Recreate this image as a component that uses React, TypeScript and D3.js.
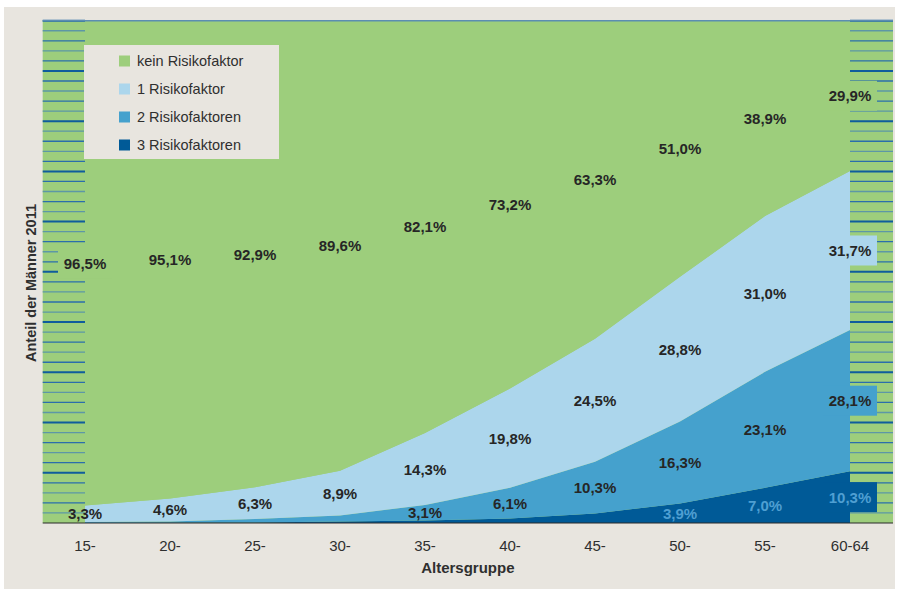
import React from "react";
import * as d3 from "d3";

const categories = ["15-", "20-", "25-", "30-", "35-", "40-", "45-", "50-", "55-", "60-64"];
const keinRisiko = [96.5, 95.1, 92.9, 89.6, 82.1, 73.2, 63.3, 51.0, 38.9, 29.9];
const einRisiko = [3.3, 4.6, 6.3, 8.9, 14.3, 19.8, 24.5, 28.8, 31.0, 31.7];
const zweiRisiko = [0.2, 0.2, 0.7, 1.2, 3.1, 6.1, 10.3, 16.3, 23.1, 28.1];
const dreiRisiko = [0.0, 0.1, 0.1, 0.3, 0.5, 0.9, 1.9, 3.9, 7.0, 10.3];

const seriesNames = ["kein Risikofaktor", "1 Risikofaktor", "2 Risikofaktoren", "3 Risikofaktoren"];
const seriesKeys = ["kein", "eins", "zwei", "drei"];
const seriesColors = ["#9dce7c", "#acd6ec", "#45a1cd", "#005a97"];
const labelColors = ["#262626", "#262626", "#262626", "#4f9fd2"];
const yTicksStripe = d3.range(0, 101, 2);

const FONT = "'Liberation Sans', Arial, Helvetica, sans-serif";

export default function App() {
  const W = 899;
  const H = 589;
  const plotLeft = 42.7;
  const plotRight = 893;
  const plotTop = 20.7;
  const plotBottom = 523;

  const x = d3.scalePoint<string>().domain(categories).range([85, 850]);
  const y = d3.scaleLinear().domain([0, 100]).range([plotBottom, plotTop]);

  const table = categories.map((c, i) => ({
    cat: c,
    kein: keinRisiko[i],
    eins: einRisiko[i],
    zwei: zweiRisiko[i],
    drei: dreiRisiko[i],
  }));

  const stack = d3
    .stack<any>()
    .keys(["drei", "zwei", "eins", "kein"])
    .order(d3.stackOrderNone)
    .offset(d3.stackOffsetNone);
  const stacked = stack(table);

  const area = d3
    .area<any>()
    .x((d) => x(d.data.cat) as number)
    .y0((d) => y(d[0]))
    .y1((d) => y(d[1]))
    .curve(d3.curveLinear);

  const colorOf = (key: string) => seriesColors[seriesKeys.indexOf(key)];
  const labelColorOf = (key: string) => labelColors[seriesKeys.indexOf(key)];

  const fmt = (v: number) => v.toFixed(1).replace(".", ",") + "%";

  const stripeBands = [
    [plotLeft, x(categories[0]) as number],
    [x(categories[categories.length - 1]) as number, plotRight],
  ];

  const labels: any[] = [];
  stacked.forEach((layer) => {
    layer.forEach((d: any, i: number) => {
      const v = d.data[layer.key];
      if (v >= 3) {
        labels.push({
          key: layer.key,
          i,
          cx: x(d.data.cat) as number,
          cy: y((d[0] + d[1]) / 2),
          text: fmt(v),
        });
      }
    });
  });

  const boxHalfW = 27;
  const boxHalfH = 15;

  return (
    <svg
      width={W}
      height={H}
      style={{ position: "absolute", left: 0, top: 0, background: "#ffffff" }}
      fontFamily={FONT}
    >
      <rect x={4} y={7} width={891} height={H - 7} fill="#e8e5df" />
      <rect x={plotLeft} y={plotTop} width={plotRight - plotLeft} height={plotBottom - plotTop} fill={seriesColors[0]} />

      {/* striped side bands */}
      {stripeBands.map((b, bi) => (
        <g key={"band" + bi}>
          {yTicksStripe.map((t, ti) =>
            t === 0 ? null : (
              <line
                key={ti}
                x1={b[0]}
                x2={b[1]}
                y1={y(t)}
                y2={y(t)}
                stroke={t % 10 === 0 ? "#0f5c9d" : ti % 2 === 0 ? "#2b6eac" : "#5d97a6"}
                strokeWidth={t % 10 === 0 ? 2 : 1.3}
              />
            )
          )}
        </g>
      ))}

      {/* stacked areas */}
      {stacked.map((layer) => (
        <path key={layer.key} d={area(layer) as string} fill={colorOf(layer.key)} />
      ))}

      {/* top line */}
      <line x1={plotLeft} x2={plotRight} y1={plotTop} y2={plotTop} stroke="#5b8db2" strokeWidth={1.5} />
      {/* baseline */}
      <line x1={plotLeft} x2={plotRight} y1={plotBottom} y2={plotBottom} stroke="#2a2a2a" strokeWidth={1.2} />

      {/* label boxes on the edges */}
      {labels
        .filter((l) => (l.i === 0 || l.i === categories.length - 1) && l.cy + boxHalfH < plotBottom)
        .map((l, k) => (
          <rect
            key={"box" + k}
            x={l.cx - boxHalfW}
            y={l.cy - boxHalfH}
            width={boxHalfW * 2}
            height={boxHalfH * 2}
            fill={colorOf(l.key)}
          />
        ))}

      {/* value labels */}
      {labels.map((l, k) => (
        <text
          key={"lab" + k}
          x={l.cx}
          y={l.cy}
          textAnchor="middle"
          dominantBaseline="central"
          fontWeight="bold"
          fontSize={15}
          fill={labelColorOf(l.key)}
        >
          {l.text}
        </text>
      ))}

      {/* legend */}
      <rect x={84} y={45} width={195} height={114} fill="#e8e5df" />
      {seriesNames.map((n, i) => (
        <g key={n} transform={`translate(119, ${61 + i * 28})`}>
          <rect x={0} y={-5.5} width={11} height={11} fill={seriesColors[i]} />
          <text x={18} y={0} dominantBaseline="central" fontSize={14.5} fill="#2f2f2f">
            {n}
          </text>
        </g>
      ))}

      {/* x axis tick labels */}
      {categories.map((c) => (
        <text key={c} x={x(c) as number} y={550.5} textAnchor="middle" fontSize={15} fill="#2f2f2f">
          {c}
        </text>
      ))}
      <text
        x={(plotLeft + plotRight) / 2}
        y={572.5}
        textAnchor="middle"
        fontSize={15}
        fontWeight="bold"
        fill="#2f2f2f"
      >
        Altersgruppe
      </text>
      <text
        transform={`translate(36, ${283}) rotate(-90)`}
        textAnchor="middle"
        fontSize={14.5}
        fontWeight="bold"
        fill="#2f2f2f"
      >
        Anteil der Männer 2011
      </text>
    </svg>
  );
}
